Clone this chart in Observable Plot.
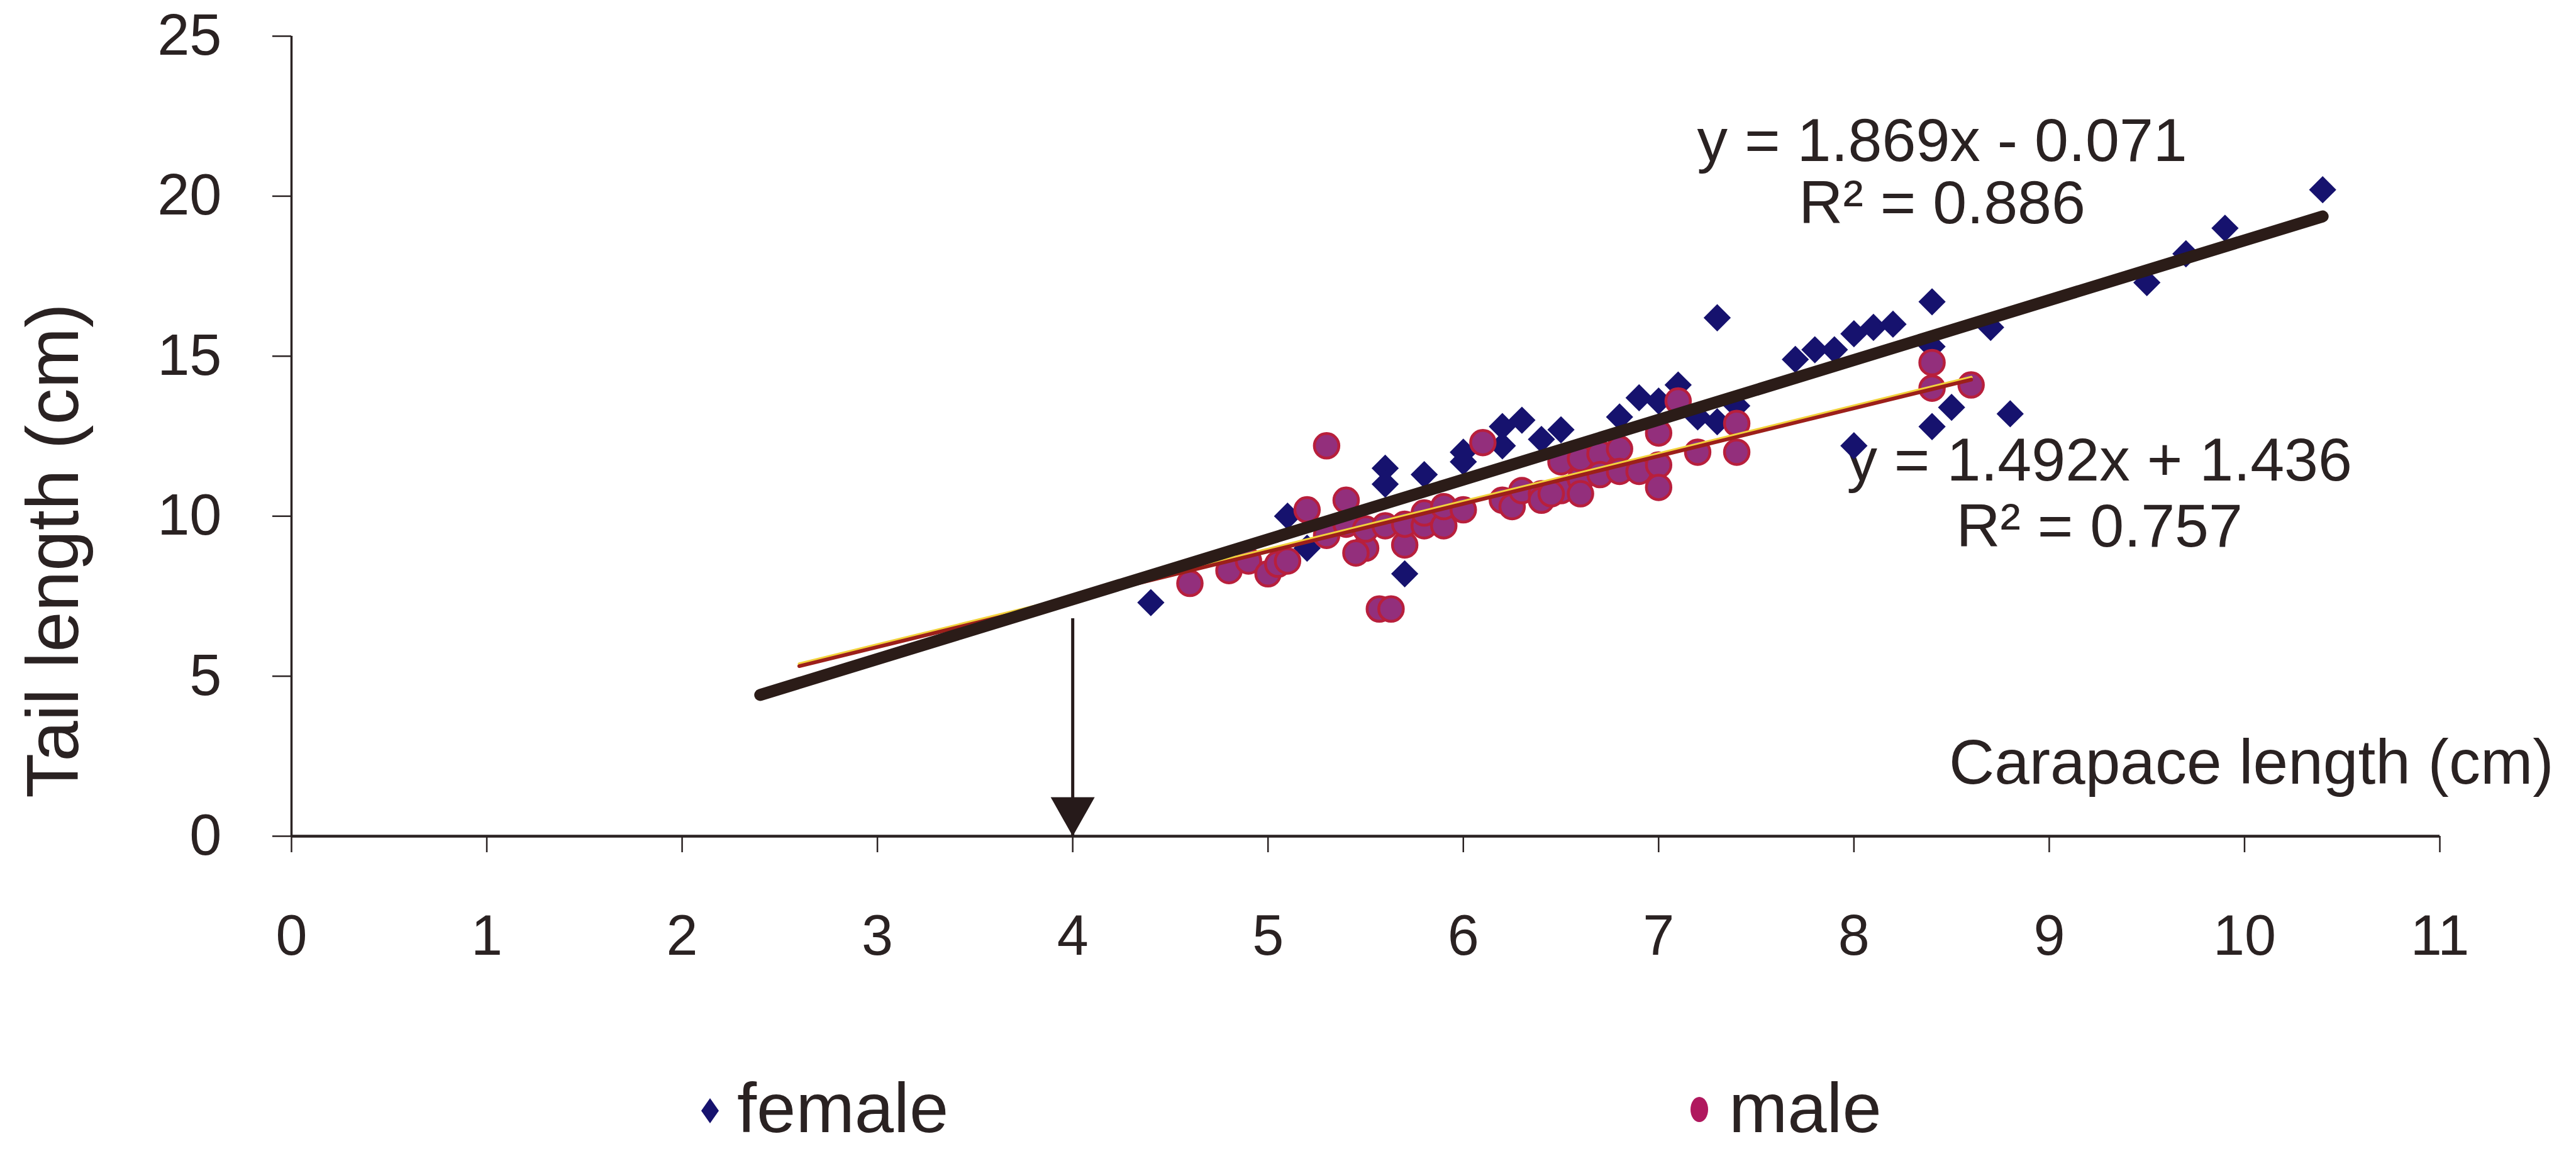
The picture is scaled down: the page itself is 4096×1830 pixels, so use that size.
<!DOCTYPE html>
<html>
<head>
<meta charset="utf-8">
<script src="https://cdn.jsdelivr.net/npm/d3@7"></script>
<script src="https://cdn.jsdelivr.net/npm/@observablehq/plot@0.6"></script>
<style>
  html, body { margin: 0; padding: 0; background: #ffffff; }
  #wrap { position: relative; width: 4096px; height: 1830px; overflow: hidden; background: #ffffff;
          font-family: "Liberation Sans", Arial, sans-serif; color: #2a2222; }
  #legend { position: absolute; left: 0; top: 1600px; }
</style>
</head>
<body>
<div id="wrap">
  <div id="chart"></div>
  <svg id="legend" width="4096" height="230"></svg>
</div>
<script>
// ---------- data ----------
const xTicks = [0, 1, 2, 3, 4, 5, 6, 7, 8, 9, 10, 11];
const yTicks = [0, 5, 10, 15, 20, 25];

const seriesNames = ["female", "male"];

const femaleCarapace = [4.4, 5.1, 5.2, 5.6, 5.6, 5.7, 5.8, 6.0, 6.0, 6.2, 6.2, 6.3, 6.4, 6.5, 6.8, 6.9, 7.0, 7.1, 7.2, 7.3,
                        7.3, 7.4, 7.7, 7.8, 7.9, 8.0, 8.1, 8.2, 8.4, 8.4, 8.7, 8.5, 8.4, 8.8, 8.0, 9.5, 9.7, 9.9, 10.4];
const femaleTail     = [7.3, 10.0, 9.0, 11.5, 11.0, 8.2, 11.3, 12.0, 11.7, 12.8, 12.2, 13.0, 12.4, 12.7, 13.1, 13.7, 13.6, 14.1, 13.1, 12.95,
                        16.2, 13.45, 14.9, 15.2, 15.2, 15.7, 15.9, 16.0, 16.7, 15.3, 15.9, 13.4, 12.8, 13.2, 12.2, 17.3, 18.2, 19.0, 20.2];

const maleCarapace = [4.6, 4.8, 4.9, 5.0, 5.05, 5.1, 5.2, 5.3, 5.3, 5.4, 5.4, 5.5, 5.45, 5.5, 5.57, 5.63, 5.6, 5.7, 5.7, 5.8,
                      5.8, 5.9, 5.9, 6.0, 6.1, 6.2, 6.25, 6.3, 6.4, 6.4, 6.5, 6.5, 6.45, 6.6, 6.6, 6.6, 6.7, 6.7, 6.8, 6.8,
                      6.9, 7.0, 7.0, 7.0, 7.1, 7.2, 7.4, 7.4, 8.4, 8.4, 8.6];
const maleTail     = [7.9, 8.3, 8.6, 8.2, 8.5, 8.6, 10.2, 12.2, 9.4, 10.5, 9.75, 9.0, 8.85, 9.6, 7.1, 7.1, 9.7, 9.1, 9.75, 9.7,
                      10.1, 9.7, 10.3, 10.2, 12.3, 10.5, 10.3, 10.8, 10.7, 10.5, 11.7, 10.8, 10.7, 11.15, 10.7, 11.8, 11.95, 11.3, 12.1, 11.4,
                      11.4, 11.6, 10.9, 12.6, 13.6, 12.0, 12.9, 12.0, 14.8, 14.0, 14.1];

// trendline coefficients printed on the chart
const femaleSlope = 1.869, femaleIntercept = -0.071, femaleR2 = 0.886;
const maleSlope = 1.492, maleIntercept = 1.436, maleR2 = 0.757;
const backwardForecast = 2;     // trendlines extended 2 units back

// arrow annotation
const arrowX = 4;
const arrowTop = 6.8;

const xLabel = "Carapace length (cm)";
const yLabel = "Tail length (cm)";

// ---------- build tables ----------
const female = femaleCarapace.map((x, i) => ({x, y: femaleTail[i]}));
const male = maleCarapace.map((x, i) => ({x, y: maleTail[i]}));

function trend(xs, slope, intercept) {
  const x0 = d3.min(xs) - backwardForecast, x1 = d3.max(xs);
  return [x0, x1].map(x => ({x, y: slope * x + intercept}));
}
const femaleLine = trend(femaleCarapace, femaleSlope, femaleIntercept);
const maleLine = trend(maleCarapace, maleSlope, maleIntercept);

const eq = (s, b) => `y = ${s.toFixed(3)}x ${b < 0 ? "-" : "+"} ${Math.abs(b).toFixed(3)}`;
const r2 = r => `R² = ${r.toFixed(3)}`;

const ink = "#2a2222";
const font = "Liberation Sans, Arial, sans-serif";

const arrowHead = {
  draw(ctx) {
    ctx.moveTo(0, 0);
    ctx.lineTo(-35, -62);
    ctx.lineTo(35, -62);
    ctx.closePath();
  }
};

const chart = Plot.plot({
  width: 4096,
  height: 1600,
  marginLeft: 463,
  marginRight: 217,
  marginTop: 57,
  marginBottom: 271,
  x: {domain: [0, 11]},
  y: {domain: [0, 25]},
  style: {fontFamily: font, color: ink, background: "#ffffff"},
  marks: [
    Plot.axisY({ticks: yTicks, tickSize: 30, tickPadding: 81, fontSize: 92, strokeWidth: 2.5, label: null, color: ink}),
    Plot.axisX({ticks: xTicks, tickSize: 26, tickPadding: 99, fontSize: 90, strokeWidth: 2.5, label: null, color: ink}),
    Plot.ruleX([0], {stroke: ink, strokeWidth: 3.5}),
    Plot.ruleY([0], {stroke: ink, strokeWidth: 4.5}),

    // axis titles
    Plot.text([yLabel], {text: d => d, frameAnchor: "left", rotate: -90, textAnchor: "middle", lineAnchor: "bottom",
                         dx: -340, dy: 182, fontSize: 116, fill: ink}),
    Plot.text([xLabel], {text: d => d, frameAnchor: "bottom-right", textAnchor: "end", lineAnchor: "bottom",
                         dx: 181, dy: -84, fontSize: 100, fill: ink}),

    // equations, anchored at trendline ends
    Plot.text([femaleLine[1]], {x: "x", y: "y", text: () => eq(femaleSlope, femaleIntercept), textAnchor: "middle",
                                lineAnchor: "bottom", dx: -605, dy: -88, fontSize: 97, fill: ink}),
    Plot.text([femaleLine[1]], {x: "x", y: "y", text: () => r2(femaleR2), textAnchor: "middle",
                                lineAnchor: "bottom", dx: -605, dy: 11, fontSize: 97, fill: ink}),
    Plot.text([maleLine[1]], {x: "x", y: "y", text: () => eq(maleSlope, maleIntercept), textAnchor: "middle",
                              lineAnchor: "bottom", dx: 204, dy: 160, fontSize: 97, fill: ink}),
    Plot.text([maleLine[1]], {x: "x", y: "y", text: () => r2(maleR2), textAnchor: "middle",
                              lineAnchor: "bottom", dx: 204, dy: 265, fontSize: 97, fill: ink}),

    // arrow
    Plot.ruleX([arrowX], {y1: 0, y2: arrowTop, stroke: "#261a1a", strokeWidth: 5}),
    Plot.dot([arrowX], {x: d => d, y: () => 0, symbol: arrowHead, fill: "#261a1a", stroke: "none"}),

    // points
    Plot.dot(female, {x: "x", y: "y", symbol: "diamond2", r: 19.5, fill: "#16126e"}),
    Plot.dot(male, {x: "x", y: "y", r: 19.5, fill: "#932f7c", stroke: "#b81f3c", strokeWidth: 4.5}),

    // trendlines
    Plot.line(maleLine, {x: "x", y: "y", stroke: "#f2d23c", strokeWidth: 5, dy: -3.5}),
    Plot.line(maleLine, {x: "x", y: "y", stroke: "#9c1f1a", strokeWidth: 6}),
    Plot.line(femaleLine, {x: "x", y: "y", stroke: "#2b1c18", strokeWidth: 19, strokeLinecap: "round"})
  ]
});
document.getElementById("chart").appendChild(chart);

// ---------- legend ----------
const legend = d3.select("#legend");
const legendItems = [
  {name: seriesNames[0], mx: 1129, tx: 1172},
  {name: seriesNames[1], mx: 2702, tx: 2749}
];
legendItems.forEach((d, i) => {
  if (i === 0) {
    legend.append("path")
      .attr("d", `M${d.mx},${166 - 20} L${d.mx + 14},166 L${d.mx},${166 + 20} L${d.mx - 14},166 Z`)
      .attr("fill", "#16126e");
  } else {
    legend.append("ellipse").attr("cx", d.mx).attr("cy", 164).attr("rx", 14).attr("ry", 20)
      .attr("fill", "#b0185e");
  }
  legend.append("text").attr("x", d.tx).attr("y", 200)
    .attr("font-family", font).attr("font-size", 112).attr("fill", ink)
    .text(d.name);
});
</script>
</body>
</html>
